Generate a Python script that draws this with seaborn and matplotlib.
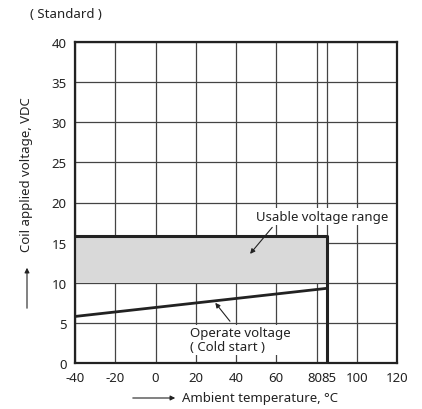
import numpy as np
import pandas as pd
import seaborn as sns
import matplotlib
matplotlib.use("Agg")
import matplotlib.pyplot as plt
from matplotlib.transforms import ScaledTranslation

# ---- data ----
temps = [-40, 85]
operate_voltage = [5.8, 9.3]
usable_top = 15.8
usable_bottom = 10.0
boundary_x = [-40, 85, 85]
boundary_y = [15.8, 15.8, 0]
x_ticks = [-40, -20, 0, 20, 40, 60, 80, 85, 100, 120]
y_ticks = [0, 5, 10, 15, 20, 25, 30, 35, 40]

sns.set_style("white")
plt.rcParams['font.family'] = ['Noto Sans', 'DejaVu Sans']

fig = plt.figure(figsize=(4.22, 4.10), dpi=100)
ax = fig.add_axes([75/422, 46/410, 322/422, 321/410])

ax.set_xlim(-40, 120)
ax.set_ylim(0, 40)

# grid
for xv in x_ticks:
    ax.axvline(xv, color='#444444', lw=0.9, zorder=1)
for yv in y_ticks:
    ax.axhline(yv, color='#444444', lw=0.9, zorder=1)

# shaded usable range
ax.fill_between(temps, [usable_bottom]*2, [usable_top]*2, color='#d9d9d9', zorder=2, lw=0)

# boundary
bdf = pd.DataFrame({'x': boundary_x, 'y': boundary_y})
sns.lineplot(data=bdf, x='x', y='y', sort=False, estimator=None, color='#222222', lw=2.2, ax=ax, zorder=4)

# operate line
odf = pd.DataFrame({'x': temps, 'y': operate_voltage})
sns.lineplot(data=odf, x='x', y='y', sort=False, estimator=None, color='#222222', lw=2.0, ax=ax, zorder=4)

ax.set_xticks(x_ticks)
ax.set_yticks(y_ticks)
ax.set_xticklabels([str(v) for v in x_ticks])
ax.set_yticklabels([str(v) for v in y_ticks])
ax.tick_params(length=0, labelsize=9.5, colors='#222222', pad=6)
ax.set_xlabel('')
ax.set_ylabel('')

labs = ax.get_xticklabels()
labs[6].set_transform(labs[6].get_transform() + ScaledTranslation(-2.0/100, 0, fig.dpi_scale_trans))
labs[7].set_transform(labs[7].get_transform() + ScaledTranslation(2.0/100, 0, fig.dpi_scale_trans))

for s in ax.spines.values():
    s.set_visible(True)
    s.set_color('#222222')
    s.set_linewidth(1.6)
    s.set_zorder(5)

arrow_kw = dict(arrowstyle='-|>', color='#222222', lw=0.8, mutation_scale=7, shrinkA=0, shrinkB=0)

# annotations
ax.annotate('', xy=(47, 13.6), xytext=(58, 16.9), arrowprops=arrow_kw, zorder=6)
ax.text(82.6, 18.3, 'Usable voltage range', fontsize=9.5, color='#222222', ha='center', va='center',
        bbox=dict(boxstyle='square,pad=0.15', fc='white', ec='none'), zorder=6)

ax.annotate('', xy=(29.7, 7.5), xytext=(37, 5.2), arrowprops=arrow_kw, zorder=6)
ax.text(17.2, 2.9, 'Operate voltage\n( Cold start )', fontsize=9.5, color='#222222',
        ha='left', va='center', linespacing=1.1,
        bbox=dict(boxstyle='square,pad=0.1', fc='white', ec='none'), zorder=6)

# figure-level labels
fig.text(30/422, 1 - 15/410, '( Standard )', fontsize=9.5, color='#222222', ha='left', va='center')
fig.text(27/422, 1 - 175/410, 'Coil applied voltage, VDC', fontsize=9.5, color='#222222',
         rotation=90, ha='center', va='center')
fig.text(182/422, 1 - 399/410, 'Ambient temperature, °C', fontsize=9.5, color='#222222',
         ha='left', va='center')
fig.add_artist(matplotlib.patches.FancyArrowPatch((27/422, 1 - 312/410), (27/422, 1 - 266/410),
               transform=fig.transFigure, arrowstyle='-|>', mutation_scale=7, color='#222222', lw=0.8))
fig.add_artist(matplotlib.patches.FancyArrowPatch((130/422, 1 - 399/410), (178/422, 1 - 399/410),
               transform=fig.transFigure, arrowstyle='-|>', mutation_scale=7, color='#222222', lw=0.8))

fig.savefig('out.png', dpi=100)
